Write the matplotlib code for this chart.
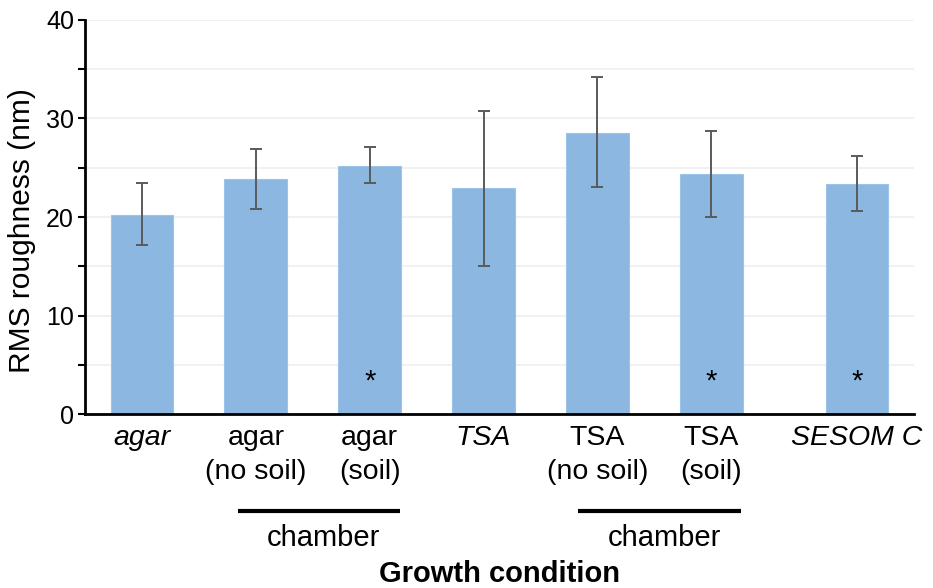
import matplotlib
matplotlib.use("Agg")
import matplotlib.pyplot as plt
import matplotlib.transforms as mtransforms

plt.rcParams['font.family'] = ['Liberation Sans', 'DejaVu Sans']

labels = ['agar', 'agar\n(no soil)', 'agar\n(soil)', 'TSA',
          'TSA\n(no soil)', 'TSA\n(soil)', 'SESOM C']
italic = [True, False, False, True, False, False, True]
positions = [0, 1, 2, 3, 4, 5, 6.28]
rms = [20.2, 23.9, 25.2, 22.9, 28.5, 24.4, 23.4]
err_low = [3.0, 3.1, 1.7, 7.9, 5.5, 4.4, 2.8]
err_high = [3.3, 3.0, 1.9, 7.9, 5.7, 4.3, 2.8]
signif = [False, False, True, False, False, True, True]
groups = [(0.84, 2.27, 'chamber'), (3.83, 5.26, 'chamber')]

fig = plt.figure(figsize=(9.33, 5.88), dpi=100)
ax = fig.add_axes([0.0911, 0.2959, 0.8885, 0.6701])

ax.bar(positions, rms, width=0.55, color='#8cb7e1', edgecolor='#9cc4ea',
       linewidth=0.8, zorder=2)
ax.errorbar(positions, rms, yerr=[err_low, err_high], fmt='none',
            ecolor='#5a5a5a', elinewidth=1.4, capsize=4, capthick=1.4, zorder=3)

for x, s in zip(positions, signif):
    if s:
        ax.text(x, 3.3, '*', ha='center', va='center', fontsize=21, zorder=4)

ax.set_xlim(-0.5, 6.78)
ax.set_ylim(0, 40)
ax.set_yticks([0, 10, 20, 30, 40])
ax.set_yticks([5, 15, 25, 35], minor=True)
ax.grid(True, which='both', axis='y', color='#efefef', linewidth=1.2, zorder=0)
ax.set_axisbelow(True)

ax.spines['top'].set_visible(False)
ax.spines['right'].set_visible(False)
ax.spines['left'].set_linewidth(2)
ax.spines['bottom'].set_linewidth(2)
ax.tick_params(axis='y', which='both', length=5, width=1.5, labelsize=18, pad=3)
ax.tick_params(axis='x', length=0, labelsize=20.5, pad=8)

ax.set_xticks(positions)
ax.set_xticklabels(labels)
for lbl, it in zip(ax.get_xticklabels(), italic):
    lbl.set_linespacing(1.4)
    if it:
        lbl.set_style('italic')

ax.set_ylabel('RMS roughness (nm)', fontsize=21.5)
ax.yaxis.set_label_coords(-0.059, 0.465)

trans = mtransforms.blended_transform_factory(ax.transData, ax.transAxes)
for x0, x1, name in groups:
    ax.plot([x0, x1], [-0.245, -0.245], color='black', linewidth=3,
            transform=trans, clip_on=False, solid_capstyle='butt')
    ax.text((x0 + x1) / 2 + 0.04, -0.315, name, ha='center', va='center',
            fontsize=21, transform=trans)

ax.text(0.5, -0.405, 'Growth condition', ha='center', va='center',
        fontsize=21, fontweight='bold', transform=ax.transAxes)

fig.savefig('out.png', dpi=100)
